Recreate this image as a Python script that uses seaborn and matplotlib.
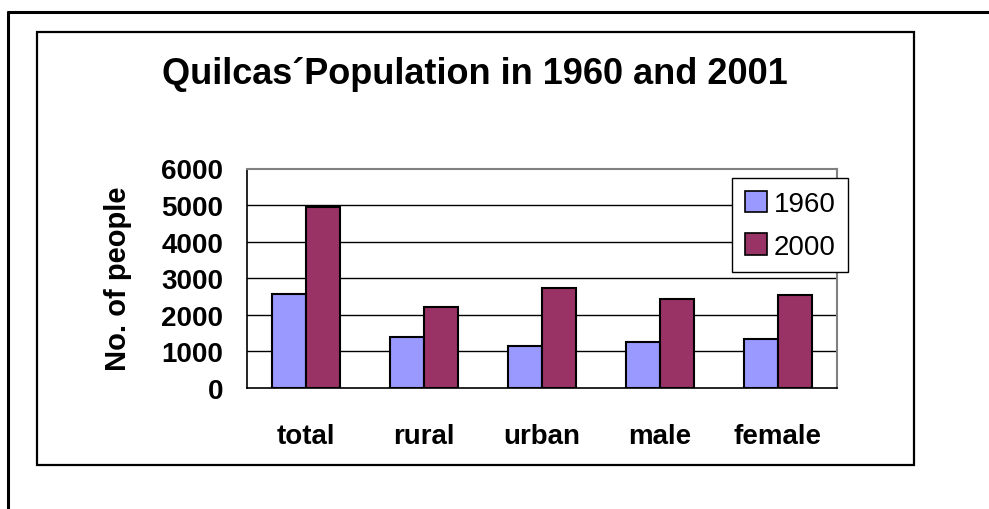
import matplotlib
matplotlib.use("Agg")
import matplotlib.pyplot as plt
import seaborn as sns
import pandas as pd
from matplotlib.patches import Rectangle
from matplotlib.lines import Line2D

categories = ["total", "rural", "urban", "male", "female"]
years = ["1960", "2000"]
pop_1960 = [2580, 1400, 1150, 1260, 1350]
pop_2000 = [4940, 2210, 2740, 2425, 2535]
y_ticks = [0, 1000, 2000, 3000, 4000, 5000, 6000]

colors = {"1960": "#9999FF", "2000": "#993366"}

df = pd.DataFrame({
    "category": categories * 2,
    "year": ["1960"] * len(categories) + ["2000"] * len(categories),
    "people": pop_1960 + pop_2000,
})

sns.set_style("white")
plt.rcParams["font.family"] = ["Liberation Sans", "DejaVu Sans"]
plt.rcParams["text.color"] = "black"
plt.rcParams["xtick.color"] = "black"
plt.rcParams["ytick.color"] = "black"
plt.rcParams["axes.labelcolor"] = "black"

fig = plt.figure(figsize=(9.89, 5.10), dpi=100)

# outer frame (top and left only)
fig.add_artist(Line2D([7.5 / 989, 1.0], [1 - 13 / 510] * 2, color="black", lw=2.2))
fig.add_artist(Line2D([7.5 / 989] * 2, [0.0, 1 - 13 / 510], color="black", lw=2.2))
# chart box
fig.add_artist(Rectangle((37 / 989, 1 - 466 / 510), (914 - 37) / 989, (466 - 33) / 510,
                         fill=False, edgecolor="black", lw=1.6))

ax = fig.add_axes([247 / 989, 1 - 389 / 510, 590 / 989, 219.5 / 510])

sns.barplot(data=df, x="category", y="people", hue="year", order=categories,
            hue_order=years, palette=colors, width=0.575, gap=0,
            edgecolor="black", linewidth=1.5, saturation=1, ax=ax, zorder=3)

ax.set_ylim(0, 6000)
ax.set_xlim(-0.5, len(categories) - 0.5)
ax.set_yticks(y_ticks)
ax.set_yticklabels([str(v) for v in y_ticks], fontsize=20, fontweight="bold")
for v in y_ticks[1:-1]:
    ax.axhline(v, color="black", lw=1.0, zorder=1)

ax.set_xticks([i - 0.5 for i in range(len(categories) + 1)])
ax.set_xticklabels([])
ax.set_xticks(range(len(categories)), minor=True)
ax.set_xticklabels(categories, minor=True, fontsize=20, fontweight="bold")
ax.tick_params(axis="x", which="major", direction="out", length=6, width=1, color="black")
ax.tick_params(axis="x", which="minor", length=0, pad=25)
ax.tick_params(axis="y", direction="out", length=6, width=1, color="black", pad=11)

ax.set_xlabel("")
ax.set_ylabel("No. of people", fontsize=21, fontweight="bold")
ax.yaxis.set_label_coords(-0.195, 0.5)

for side in ["left", "bottom"]:
    ax.spines[side].set_color("black")
    ax.spines[side].set_linewidth(1.2)
for side in ["top", "right"]:
    ax.spines[side].set_color("#808080")
    ax.spines[side].set_linewidth(1.5)
ax.set_facecolor("white")

ax.legend_.remove()
handles = [Rectangle((0, 0), 1, 1, facecolor=colors[y], edgecolor="black", lw=1.2) for y in years]
leg = fig.legend(handles, years, loc="upper left", bbox_to_anchor=(732 / 989, 1 - 179 / 510),
                 fontsize=20, frameon=True, fancybox=False, framealpha=1,
                 edgecolor="black", handlelength=0.8, handleheight=0.8,
                 handletextpad=0.25, labelspacing=0.6, borderpad=0.45, borderaxespad=0)
leg.get_frame().set_linewidth(1.0)

fig.text(475 / 989, 1 - 75 / 510, "Quilcas\u00b4Population in 1960 and 2001",
         ha="center", va="center", fontsize=26, fontweight="bold")

fig.savefig("out.png", dpi=100)
